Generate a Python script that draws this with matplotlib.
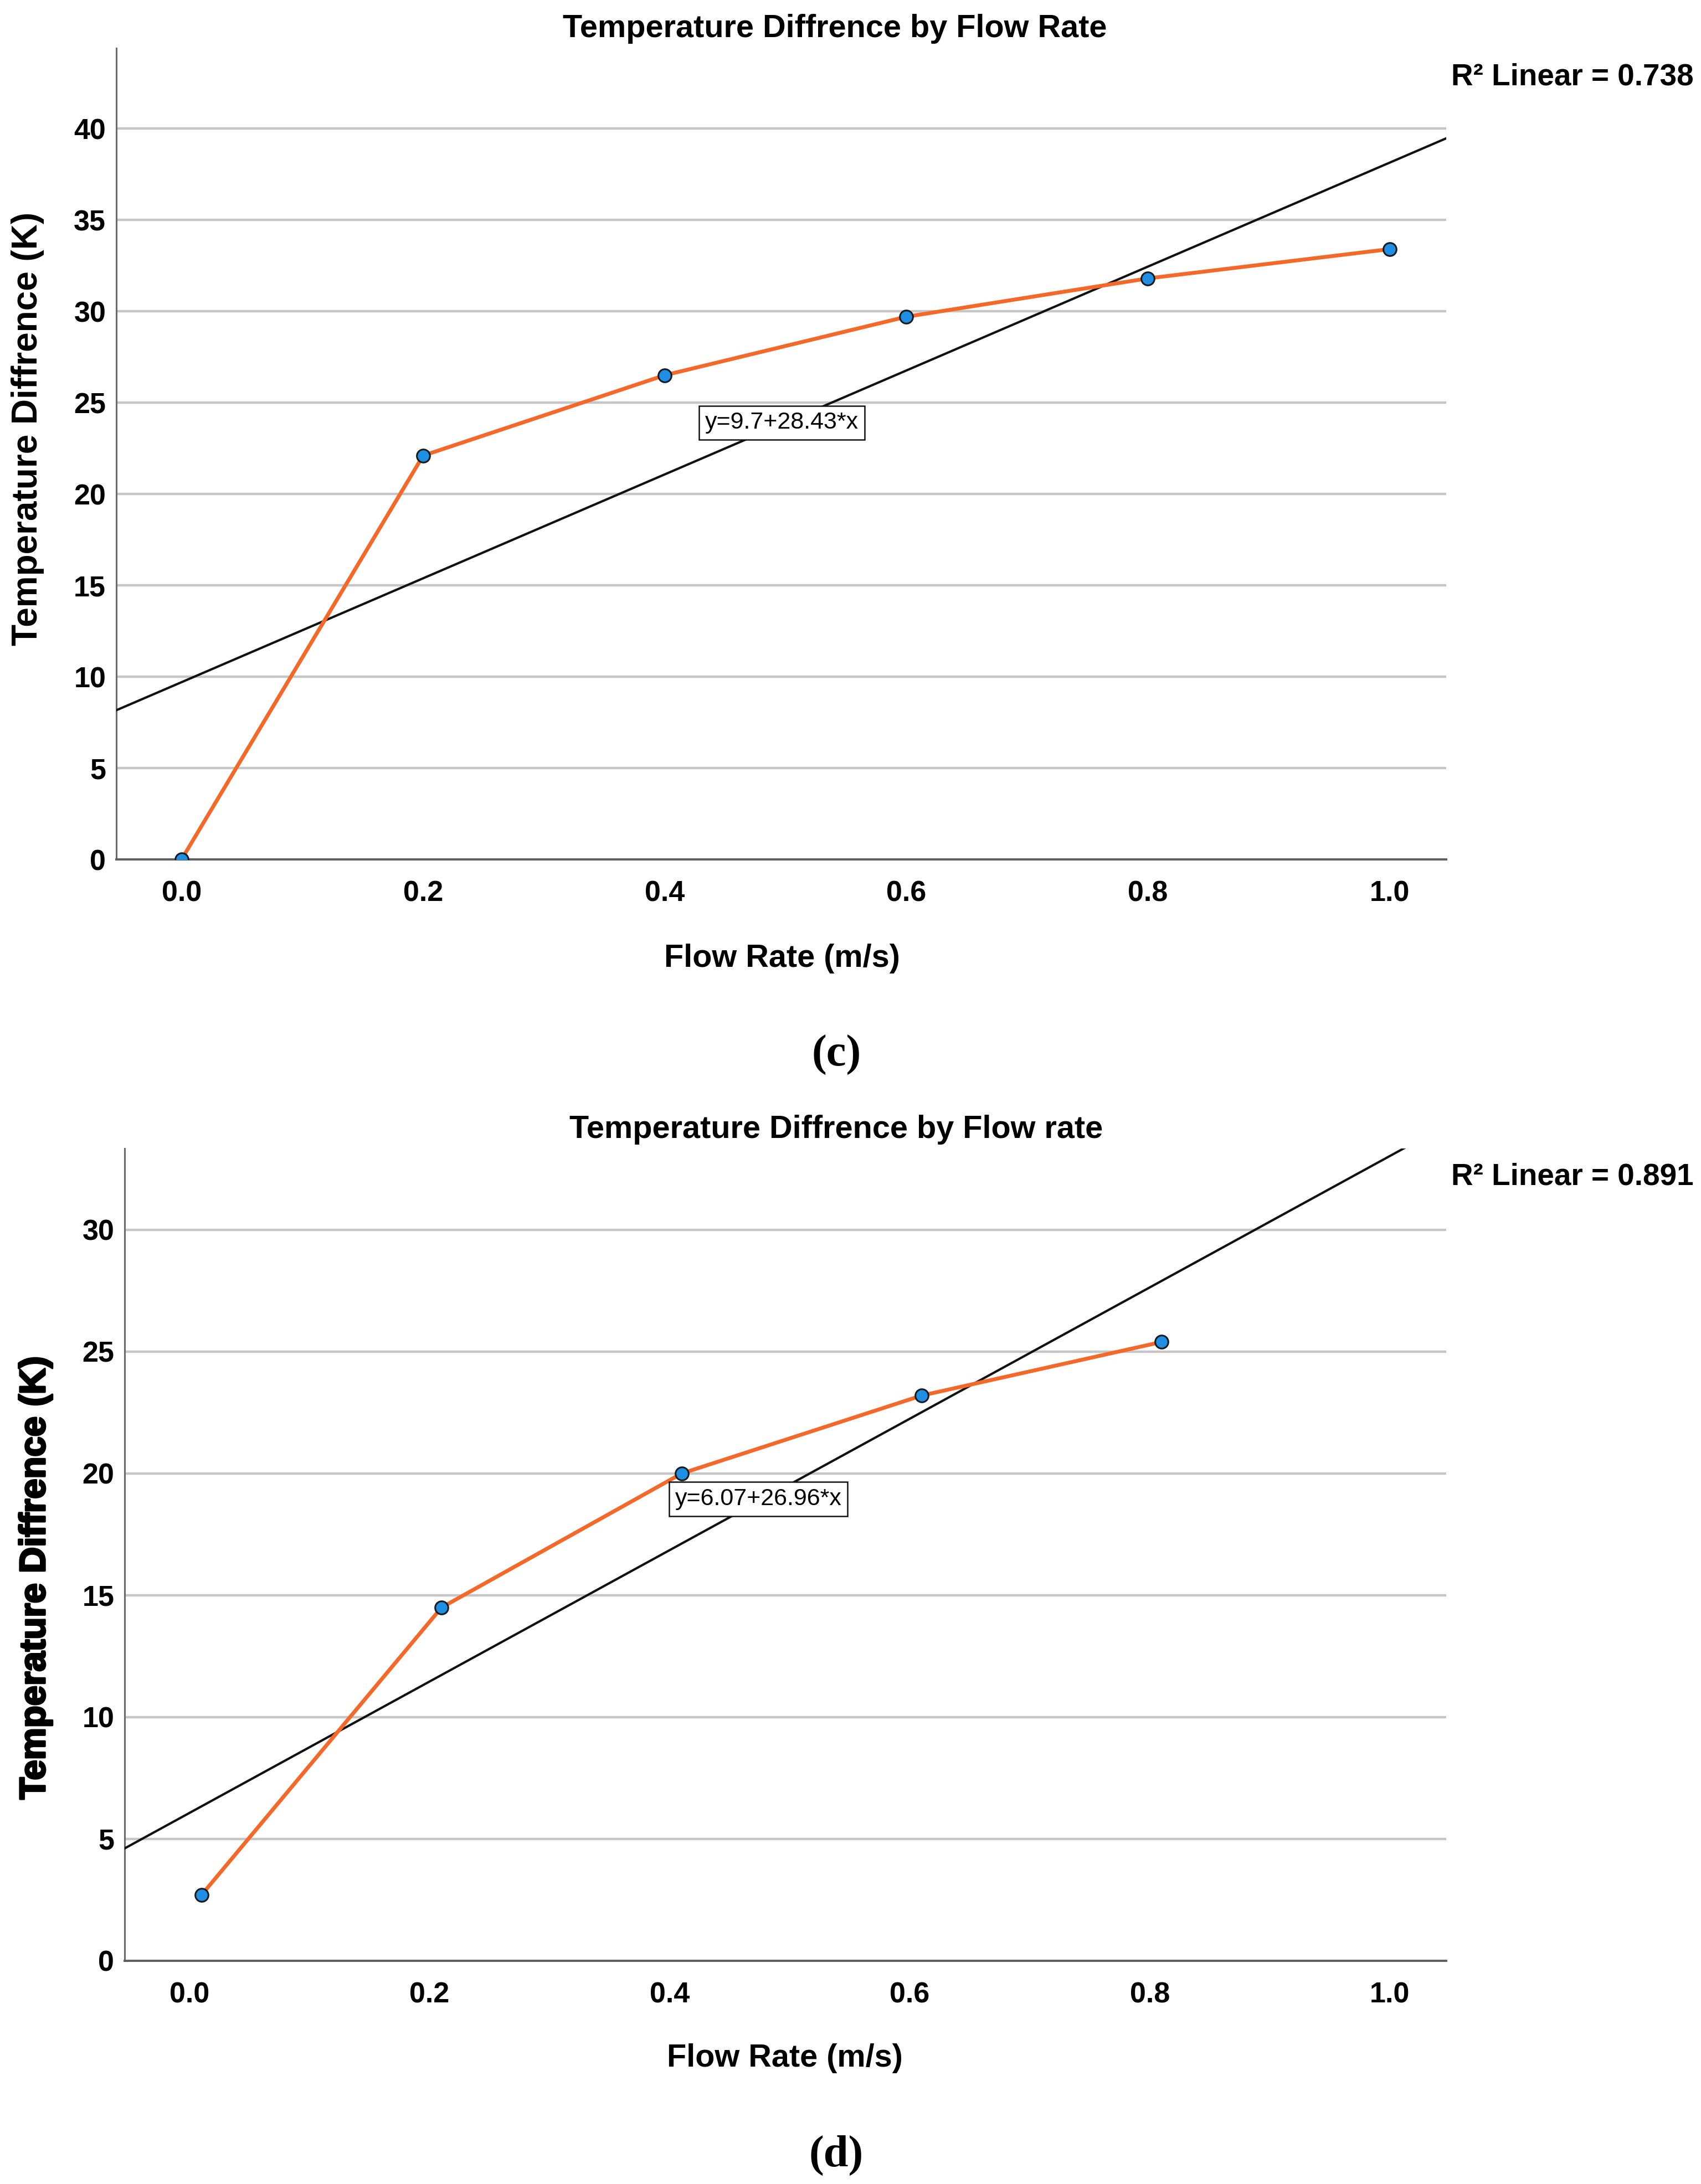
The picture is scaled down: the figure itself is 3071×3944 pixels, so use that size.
import numpy as np
import matplotlib
matplotlib.use("Agg")
import matplotlib.pyplot as plt
import matplotlib.patheffects as pe
from matplotlib import font_manager

# Data
flow_c = [0.0, 0.2, 0.4, 0.6, 0.8, 1.0]
temp_c = [0.0, 22.1, 26.5, 29.7, 31.8, 33.4]
fit_c = (9.7, 28.43)      # intercept, slope
r2_c = 0.738

flow_d = [0.01, 0.21, 0.41, 0.61, 0.81]
temp_d = [2.7, 14.5, 20.0, 23.2, 25.4]
fit_d = (6.07, 26.96)
r2_d = 0.891

x_ticks = [0.0, 0.2, 0.4, 0.6, 0.8, 1.0]
y_ticks_c = [0, 5, 10, 15, 20, 25, 30, 35, 40]
y_ticks_d = [0, 5, 10, 15, 20, 25, 30]

W, H = 3071, 3944
SANS = "Liberation Sans"
names = {f.name for f in font_manager.fontManager.ttflist}
NARROW = "Liberation Sans Narrow" if "Liberation Sans Narrow" in names else None

plt.rcParams["font.family"] = [SANS, "DejaVu Sans"]

ORANGE = "#f4692a"
BLUE = "#1f8fe5"
GRID = "#c6c6c6"


def fx(px):
    return px / W


def fy(py):
    return 1 - py / H


def draw_panel(ax, flow, temp, fit, yticks, ylim, eq_xy):
    xs = np.array([-0.06, 1.06])
    ax.plot(xs, fit[0] + fit[1] * xs, color="#111111", lw=3.0, zorder=3)
    ax.plot(flow, temp, color=ORANGE, lw=5.0, zorder=4,
            marker="o", ms=17, mfc=BLUE, mec="#1a1a1a", mew=2.2)
    ax.set_xlim(-0.054, 1.047)
    ax.set_ylim(*ylim)
    ax.set_xticks(x_ticks)
    ax.set_xticklabels([f"{v:.1f}" for v in x_ticks])
    ax.set_yticks(yticks)
    ax.tick_params(length=0, labelsize=37.5)
    ax.tick_params(axis="x", pad=27)
    ax.tick_params(axis="y", pad=13.5)
    for lab in ax.get_xticklabels() + ax.get_yticklabels():
        lab.set_fontweight("bold")
    ax.yaxis.grid(True, color=GRID, lw=3.2, zorder=1)
    ax.set_axisbelow(True)
    for s in ["top", "right"]:
        ax.spines[s].set_visible(False)
    ax.spines["left"].set_color("#6b6b6b")
    ax.spines["left"].set_linewidth(2.2)
    ax.spines["bottom"].set_color("#5e5e5e")
    ax.spines["bottom"].set_linewidth(2.8)
    eq = f"y={fit[0]:g}+{fit[1]:g}*x"
    ax.text(eq_xy[0], eq_xy[1], eq, ha="center", va="center", fontsize=31,
            zorder=6, bbox=dict(boxstyle="square,pad=0.25", fc="white",
                                ec="#111111", lw=1.8))


fig = plt.figure(figsize=(W / 100, H / 100), dpi=100)

# (c)
ax1 = fig.add_axes([fx(210), fy(1552), fx(2611 - 210), (1552 - 87) / H])
draw_panel(ax1, flow_c, temp_c, fit_c, y_ticks_c, (0, 44.4), (0.497, 23.9))
fig.text(fx(1507), fy(67), "Temperature Diffrence by Flow Rate", ha="center",
         va="baseline", fontsize=41.5, fontweight="bold")
fig.text(fx(2620), fy(153), f"R² Linear = {r2_c}", ha="left", va="baseline",
         fontsize=39.5, fontweight="bold")
fig.text(fx(1412), fy(1746), "Flow Rate (m/s)", ha="center", va="baseline",
         fontsize=41.5, fontweight="bold")
fig.text(fx(50), fy(774), "Temperature Diffrence (K)", rotation=90,
         ha="center", va="center", fontsize=46, fontweight="bold")
fig.text(fx(1510), fy(1905), "(c)", ha="center", va="center", fontsize=58,
         family="Liberation Serif", fontweight="bold")

# (d)
ax2 = fig.add_axes([fx(225), fy(3541), fx(2611 - 225), (3541 - 2074) / H])
draw_panel(ax2, flow_d, temp_d, fit_d, y_ticks_d, (0, 33.34), (0.474, 18.95))
fig.text(fx(1510), fy(2055), "Temperature Diffrence by Flow rate", ha="center",
         va="baseline", fontsize=41.5, fontweight="bold")
fig.text(fx(2620), fy(2139), f"R² Linear = {r2_d}", ha="left", va="baseline",
         fontsize=39.5, fontweight="bold")
fig.text(fx(1417), fy(3732), "Flow Rate (m/s)", ha="center", va="baseline",
         fontsize=41.5, fontweight="bold")
if NARROW:
    fig.text(fx(64), fy(2850), "Temperature Diffrence (K)", rotation=90,
             ha="center", va="center", fontsize=57, fontweight="bold",
             family=NARROW)
else:
    # the reference label is heavier than the one in (c)
    fig.text(fx(64), fy(2850), "Temperature Diffrence (K)", rotation=90,
             ha="center", va="center", fontsize=47, fontweight="bold",
             path_effects=[pe.withStroke(linewidth=2.5, foreground="black")])
fig.text(fx(1510), fy(3892), "(d)", ha="center", va="center", fontsize=58,
         family="Liberation Serif", fontweight="bold")

fig.savefig("out.png", dpi=100, facecolor="white")
